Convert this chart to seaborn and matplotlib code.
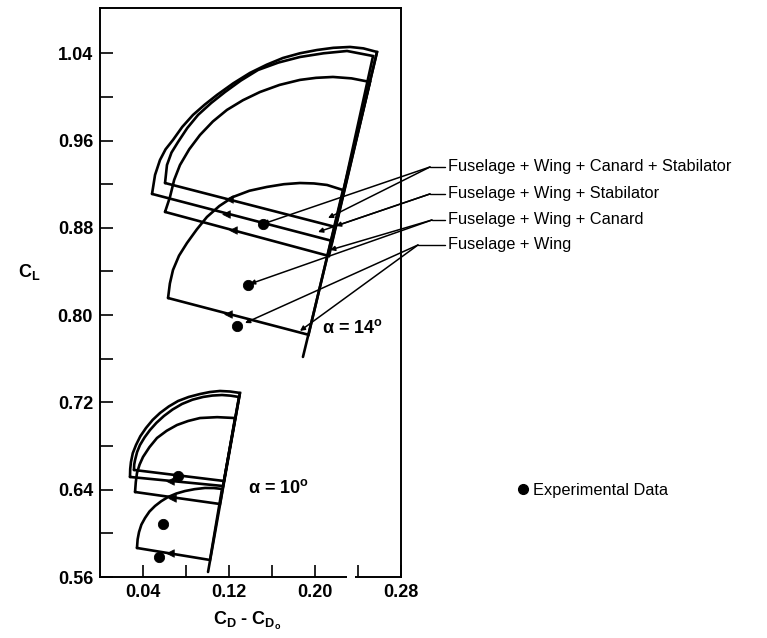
import numpy as np
import pandas as pd
import matplotlib
matplotlib.use('Agg')
import matplotlib.pyplot as plt
from matplotlib.patches import Rectangle
from matplotlib.lines import Line2D
import seaborn as sns

sns.set_theme(style='white')
plt.rcParams['font.family'] = ['Liberation Sans', 'DejaVu Sans']
plt.rcParams['mathtext.fontset'] = 'custom'
plt.rcParams['mathtext.rm'] = 'Liberation Sans'
plt.rcParams['mathtext.bf'] = 'Liberation Sans:bold'
plt.rcParams['mathtext.it'] = 'Liberation Sans:italic'
for key in ['text.color', 'axes.labelcolor', 'xtick.color', 'ytick.color', 'axes.edgecolor']:
    plt.rcParams[key] = 'black'

# ---------------- data ----------------
# alpha = 14 deg envelopes: arc points (corner -> top right) and end of trim line on alpha line
a14_outer_x = [0.0484, 0.0512, 0.0558, 0.0610, 0.0679, 0.0765, 0.0865, 0.0975, 0.1088, 0.1240,
               0.1395, 0.1550, 0.1702, 0.1860, 0.2019, 0.2170, 0.2326, 0.2450, 0.2577]
a14_outer_y = [0.9111, 0.9285, 0.9422, 0.9520, 0.9606, 0.9725, 0.9835, 0.9930, 1.0018, 1.0125,
               1.0220, 1.0295, 1.0357, 1.0400, 1.0430, 1.0450, 1.0458, 1.0445, 1.0412]
a14_outer_end = (0.2160, 0.8680)
a14_second_x = [0.0605, 0.0623, 0.0665, 0.0726, 0.0812, 0.0912, 0.1035, 0.1163, 0.1310, 0.1470,
                0.1660, 0.1860, 0.2080, 0.2298, 0.2540]
a14_second_y = [0.9211, 0.9376, 0.9490, 0.9587, 0.9715, 0.9835, 0.9945, 1.0045, 1.0150, 1.0247,
                1.0315, 1.0366, 1.0400, 1.0421, 1.0375]
a14_second_end = (0.2190, 0.8808)
a14_third_x = [0.0605, 0.0651, 0.0690, 0.0744, 0.0830, 0.0930, 0.1050, 0.1181, 0.1330, 0.1488,
               0.1670, 0.1860, 0.2010, 0.2167, 0.2340, 0.2512]
a14_third_y = [0.8946, 0.9083, 0.9240, 0.9376, 0.9520, 0.9651, 0.9775, 0.9881, 0.9970, 1.0045,
               1.0110, 1.0156, 1.0175, 1.0183, 1.0170, 1.0137]
a14_third_end = (0.2130, 0.8542)
a14_fw_x = [0.0633, 0.0650, 0.0679, 0.0735, 0.0809, 0.0900, 0.0995, 0.1110, 0.1237, 0.1390,
            0.1553, 0.1710, 0.1860, 0.1990, 0.2112, 0.2260]
a14_fw_y = [0.8157, 0.8290, 0.8414, 0.8545, 0.8661, 0.8785, 0.8900, 0.9000, 0.9083, 0.9140,
            0.9175, 0.9200, 0.9211, 0.9207, 0.9193, 0.9147]
a14_fw_end = (0.1940, 0.7820)
alpha14_line_x = [0.2577, 0.1888]
alpha14_line_y = [1.0412, 0.7617]

# alpha = 10 deg envelopes
a10_outer_x = [0.0279, 0.0281, 0.0288, 0.0305, 0.0335, 0.0375, 0.0428, 0.0490, 0.0558, 0.0640,
               0.0726, 0.0825, 0.0930, 0.1020, 0.1116, 0.1210, 0.1302]
a10_outer_y = [0.6517, 0.6590, 0.6654, 0.6735, 0.6810, 0.6890, 0.6966, 0.7040, 0.7103, 0.7163,
               0.7213, 0.7250, 0.7277, 0.7295, 0.7305, 0.7300, 0.7287]
a10_outer_end = (0.1144, 0.6434)
a10_second_x = [0.0316, 0.0318, 0.0326, 0.0345, 0.0372, 0.0415, 0.0465, 0.0525, 0.0595, 0.0675,
                0.0763, 0.0860, 0.0958, 0.1045, 0.1135, 0.1215, 0.1293]
a10_second_y = [0.6581, 0.6630, 0.6672, 0.6745, 0.6810, 0.6880, 0.6947, 0.7013, 0.7076, 0.7135,
                0.7186, 0.7225, 0.7250, 0.7263, 0.7268, 0.7262, 0.7250]
a10_second_end = (0.1153, 0.6480)
a10_third_x = [0.0326, 0.0333, 0.0344, 0.0368, 0.0400, 0.0460, 0.0530, 0.0620, 0.0716, 0.0820,
               0.0930, 0.1090, 0.1256]
a10_third_y = [0.6379, 0.6470, 0.6553, 0.6630, 0.6700, 0.6790, 0.6874, 0.6940, 0.6993, 0.7030,
               0.7057, 0.7065, 0.7057]
a10_third_end = (0.1116, 0.6269)
a10_fw_x = [0.0344, 0.0350, 0.0363, 0.0385, 0.0419, 0.0460, 0.0512, 0.0570, 0.0633, 0.0710,
            0.0791, 0.0880, 0.0977, 0.1060, 0.1135]
a10_fw_y = [0.5866, 0.5945, 0.6012, 0.6080, 0.6141, 0.6200, 0.6251, 0.6295, 0.6333, 0.6365,
            0.6388, 0.6405, 0.6416, 0.6415, 0.6407]
a10_fw_end = (0.1023, 0.5756)
alpha10_line_x = [0.1302, 0.1005]
alpha10_line_y = [0.7287, 0.5646]

# experimental data points
exp_x = [0.1274, 0.1377, 0.1516, 0.0549, 0.0586, 0.0726]
exp_y = [0.7901, 0.8277, 0.8836, 0.5783, 0.6086, 0.6526]

# small arrow markers on trim lines
tri_x = [0.1200, 0.1172, 0.1237, 0.1191, 0.0651, 0.0670, 0.0651]
tri_y = [0.9065, 0.8927, 0.8781, 0.8011, 0.6480, 0.6324, 0.5820]

# configuration labels and leader lines
config_labels = ['Fuselage + Wing + Canard + Stabilator', 'Fuselage + Wing + Stabilator',
                 'Fuselage + Wing + Canard', 'Fuselage + Wing']
label_y = [0.9358, 0.9111, 0.8872, 0.8643]
anchor_x = [0.3070, 0.3070, 0.3088, 0.2958]
leader_targets = [
    [(0.1516, 0.8836), (0.2121, 0.8890)],
    [(0.2028, 0.8762), (0.2195, 0.8817)],
    [(0.1395, 0.8286), (0.2140, 0.8597)],
    [(0.1349, 0.7928), (0.1860, 0.7855)],
]
label_text_x = 0.3237

x_ticks = [0.04, 0.08, 0.12, 0.16, 0.20, 0.24, 0.28]
x_ticklabels = ['0.04', '', '0.12', '', '0.20', '', '0.28']
y_ticks = [0.56, 0.60, 0.64, 0.68, 0.72, 0.76, 0.80, 0.84, 0.88, 0.92, 0.96, 1.00, 1.04]
y_ticklabels = ['0.56', '', '0.64', '', '0.72', '', '0.80', '', '0.88', '', '0.96', '', '1.04']

# ---------------- figure ----------------
fig = plt.figure(figsize=(7.67, 6.38), dpi=100)
ax = fig.add_axes([100 / 767, 1 - 577 / 638, 301 / 767, 569 / 638])


def draw_shape(arc_x, arc_y, end, lw=1.9):
    xs = list(arc_x) + [end[0], arc_x[0]]
    ys = list(arc_y) + [end[1], arc_y[0]]
    df = pd.DataFrame({'x': xs, 'y': ys})
    sns.lineplot(data=df, x='x', y='y', sort=False, estimator=None, color='black',
                 lw=lw, ax=ax, solid_joinstyle='miter')


for ax_, ay_, end_ in [(a14_outer_x, a14_outer_y, a14_outer_end),
                       (a14_second_x, a14_second_y, a14_second_end),
                       (a14_third_x, a14_third_y, a14_third_end),
                       (a14_fw_x, a14_fw_y, a14_fw_end),
                       (a10_outer_x, a10_outer_y, a10_outer_end),
                       (a10_second_x, a10_second_y, a10_second_end),
                       (a10_third_x, a10_third_y, a10_third_end),
                       (a10_fw_x, a10_fw_y, a10_fw_end)]:
    draw_shape(ax_, ay_, end_)

sns.lineplot(x=alpha14_line_x, y=alpha14_line_y, sort=False, estimator=None, color='black', lw=1.9, ax=ax)
sns.lineplot(x=alpha10_line_x, y=alpha10_line_y, sort=False, estimator=None, color='black', lw=1.9, ax=ax)

sns.scatterplot(x=tri_x, y=tri_y, marker='<', s=30, color='black', edgecolor='black', ax=ax, zorder=4)
sns.scatterplot(x=exp_x, y=exp_y, marker='o', s=55, color='black', edgecolor='black', ax=ax, zorder=5)

# leaders and labels
for lab, ly, axx, targets in zip(config_labels, label_y, anchor_x, leader_targets):
    ax.plot([axx, label_text_x - 0.003], [ly, ly], color='black', lw=1.0, clip_on=False)
    for tx, ty in targets:
        ax.annotate('', xy=(tx, ty), xytext=(axx, ly), xycoords='data', textcoords='data',
                    annotation_clip=False,
                    arrowprops=dict(arrowstyle='-|>', color='black', lw=1.1,
                                    mutation_scale=7, shrinkA=0, shrinkB=0))
    ax.text(label_text_x, ly, lab, fontsize=11.8, va='center', ha='left', color='black')

ax.text(0.2065, 0.788, 'α = 14$^{\\mathbf{o}}$', fontsize=13, fontweight='bold', va='center', ha='left')
ax.text(0.1377, 0.6416, 'α = 10$^{\\mathbf{o}}$', fontsize=13, fontweight='bold', va='center', ha='left')

# axes styling
ax.set_xlim(0, 0.28)
ax.set_ylim(0.56, 1.0815)
ax.set_xticks(x_ticks)
ax.set_xticklabels(x_ticklabels)
ax.set_yticks(y_ticks)
ax.set_yticklabels(y_ticklabels)
ax.tick_params(axis='both', which='major', direction='in', length=9, width=1.2, labelsize=13,
               pad=5, colors='black', bottom=True, left=True, top=False, right=False)
for lbl in ax.get_xticklabels() + ax.get_yticklabels():
    lbl.set_fontweight('bold')
for sp in ax.spines.values():
    sp.set_color('black')
    sp.set_linewidth(1.4)

# small break in the bottom axis
ax.add_patch(Rectangle((0.2300, 0.552), 0.0075, 0.016, transform=ax.transData,
                       facecolor='white', edgecolor='none', clip_on=False, zorder=6))

ax.set_xlabel('C$_{\\mathbf{D}}$ - C$_{\\mathbf{D}_{\\mathbf{o}}}$', fontsize=13, fontweight='bold')
ax.xaxis.set_label_coords(0.49, -0.058)
ax.set_ylabel('C$_{\\mathbf{L}}$', fontsize=13, fontweight='bold', rotation=0, va='center')
ax.yaxis.set_label_coords(-0.235, 0.536)

handle = Line2D([], [], marker='o', color='black', linestyle='none', markersize=7)
ax.legend([handle], ['Experimental Data'], loc='center left',
          bbox_to_anchor=(518 / 767, 1 - 490 / 638), bbox_transform=fig.transFigure,
          frameon=False, handlelength=0.6, handletextpad=0.3, borderpad=0,
          borderaxespad=0, prop={'size': 11.8})

fig.savefig('out.png', dpi=100)
